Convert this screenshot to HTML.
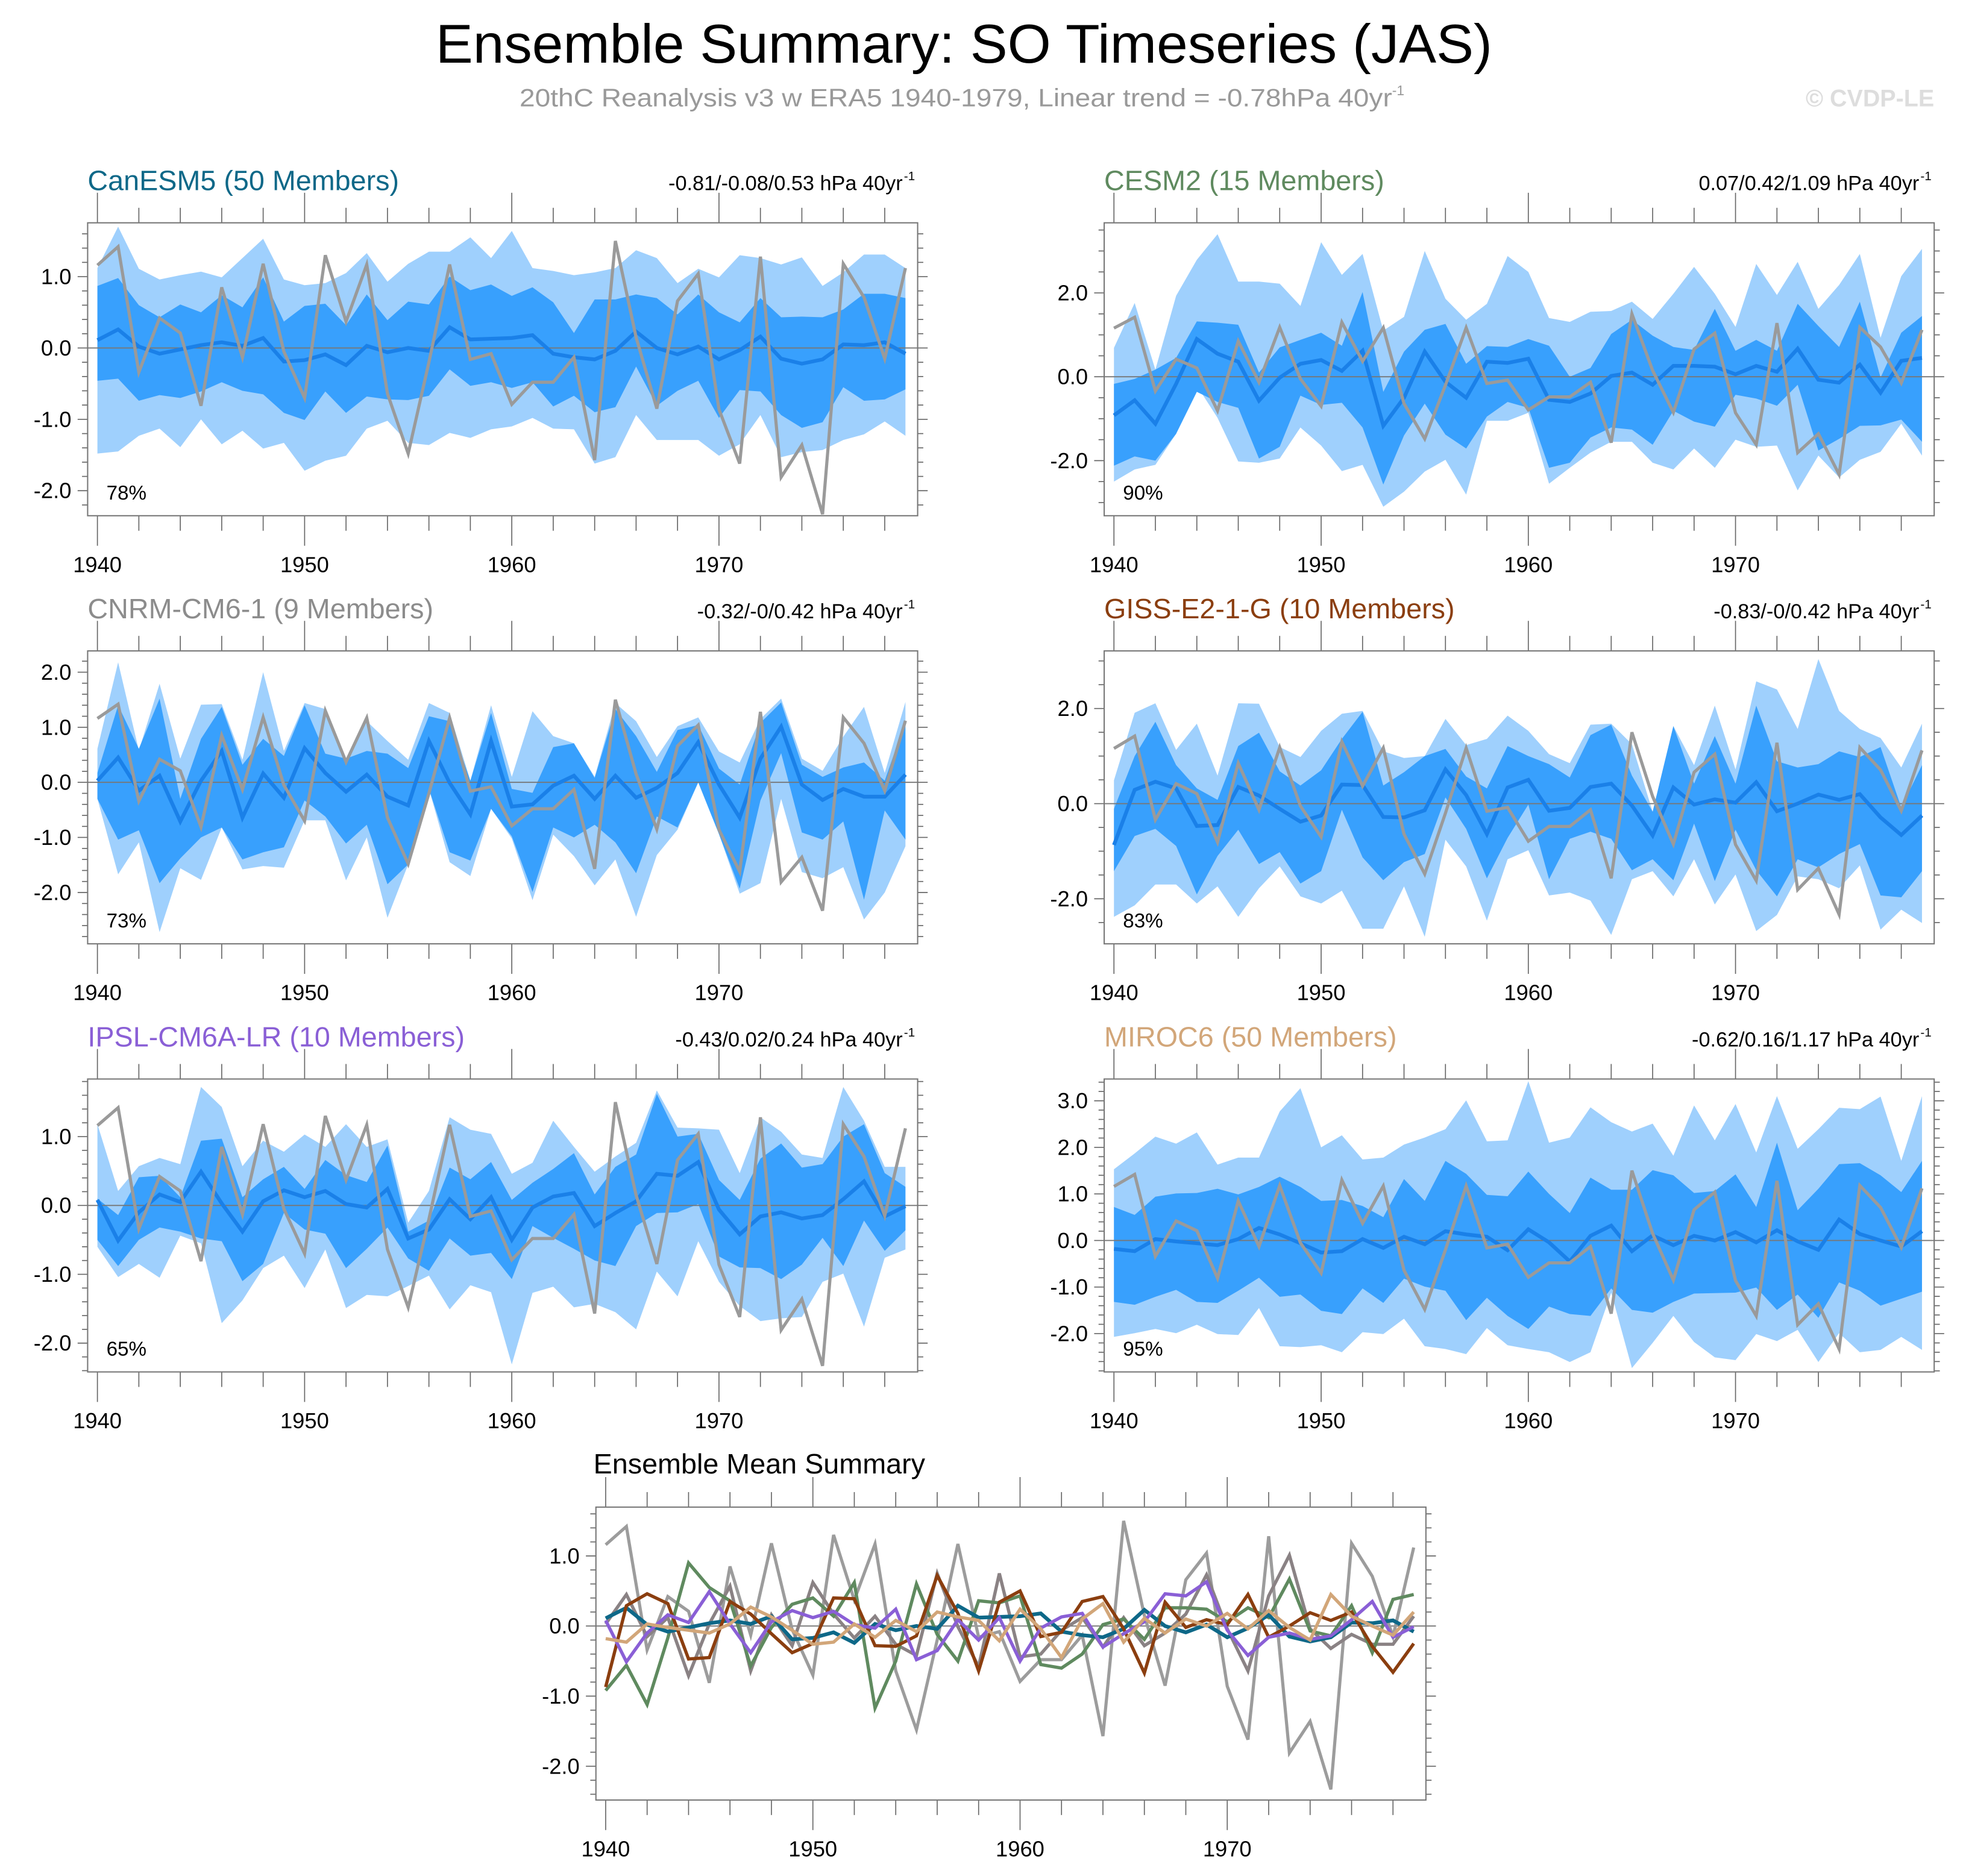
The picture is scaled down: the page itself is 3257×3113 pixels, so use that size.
<!DOCTYPE html>
<html><head><meta charset="utf-8"><title>Ensemble Summary: SO Timeseries (JAS)</title>
<style>html,body{margin:0;padding:0;background:#fff}svg{display:block}text{font-family:"Liberation Sans",Arial,sans-serif}</style>
</head><body>
<svg id="chart" xmlns="http://www.w3.org/2000/svg" width="3257" height="3113" viewBox="0 0 1568 1498.7">
<rect x="0" y="0" width="1568" height="1498.7" fill="#fff"/>
<text x="770" y="50" font-size="44" text-anchor="middle" textLength="844" lengthAdjust="spacingAndGlyphs">Ensemble Summary: SO Timeseries (JAS)</text>
<text x="415" y="85" font-size="20" fill="#999" textLength="697" lengthAdjust="spacingAndGlyphs">20thC Reanalysis v3 w ERA5 1940-1979, Linear trend = -0.78hPa 40yr</text>
<text x="1112" y="76" font-size="11" fill="#999">-1</text>
<text x="1545" y="85" font-size="19" font-weight="bold" fill="#ddd" text-anchor="end">© CVDP-LE</text>
<g id="plots"></g>
</svg>
<script>
const years = [1940,1941,1942,1943,1944,1945,1946,1947,1948,1949,1950,1951,1952,1953,1954,1955,1956,1957,1958,1959,1960,1961,1962,1963,1964,1965,1966,1967,1968,1969,1970,1971,1972,1973,1974,1975,1976,1977,1978,1979];
const obs = [1.16,1.42,-0.34,0.42,0.21,-0.81,0.85,-0.13,1.18,-0.05,-0.70,1.30,0.37,1.17,-0.64,-1.48,-0.20,1.17,-0.16,-0.08,-0.79,-0.48,-0.48,-0.13,-1.57,1.50,0.15,-0.85,0.66,1.04,-0.86,-1.62,1.28,-1.81,-1.36,-2.33,1.18,0.71,-0.15,1.12];

const canMean = [0.11,0.26,0.02,-0.08,-0.02,0.04,0.08,0.03,0.14,-0.19,-0.17,-0.09,-0.24,0.03,-0.06,0.0,-0.04,0.29,0.12,0.13,0.14,0.18,-0.08,-0.13,-0.16,-0.04,0.23,0.0,-0.09,0.02,-0.16,-0.03,0.16,-0.15,-0.22,-0.16,0.05,0.04,0.08,-0.08];
const canP90 = [0.87,0.98,0.6,0.43,0.61,0.5,0.74,0.57,0.99,0.37,0.59,0.62,0.32,0.75,0.39,0.65,0.61,1.0,0.81,0.89,0.73,0.85,0.64,0.21,0.68,0.68,0.75,0.70,0.47,0.75,0.5,0.36,0.70,0.43,0.44,0.43,0.54,0.76,0.76,0.70];
const canP10 = [-0.46,-0.43,-0.74,-0.66,-0.70,-0.61,-0.48,-0.60,-0.65,-0.91,-1.01,-0.61,-0.91,-0.68,-0.72,-0.73,-0.67,-0.30,-0.53,-0.48,-0.56,-0.48,-0.82,-0.67,-0.90,-0.83,-0.26,-0.81,-0.60,-0.46,-0.98,-0.59,-0.61,-0.94,-1.12,-1.04,-0.55,-0.74,-0.72,-0.58];
const canMax = [1.12,1.70,1.11,0.96,1.02,1.07,0.99,1.26,1.53,0.96,0.88,0.91,1.05,1.33,0.93,1.18,1.35,1.35,1.55,1.26,1.64,1.12,1.08,1.02,1.06,1.12,1.37,1.26,0.91,1.11,0.99,1.30,1.26,1.17,1.27,0.87,1.06,1.31,1.31,1.12];
const canMin = [-1.48,-1.45,-1.23,-1.13,-1.39,-1.0,-1.35,-1.16,-1.41,-1.33,-1.72,-1.58,-1.51,-1.13,-1.02,-1.33,-1.36,-1.19,-1.26,-1.14,-1.10,-0.98,-1.13,-1.14,-1.62,-1.53,-0.94,-1.29,-1.29,-1.29,-1.51,-1.35,-0.94,-1.53,-1.46,-1.43,-1.29,-1.21,-1.03,-1.23];

const cesmMean = [-0.92,-0.56,-1.12,-0.17,0.90,0.55,0.36,-0.57,-0.02,0.31,0.40,0.14,0.62,-1.17,-0.50,0.60,-0.12,-0.50,0.36,0.33,0.43,-0.55,-0.60,-0.40,0.02,0.10,-0.19,0.26,0.26,0.24,0.06,0.26,0.12,0.67,-0.07,-0.14,0.29,-0.38,0.38,0.45];
const cesmP90 = [-0.17,-0.05,0.17,0.45,1.32,1.29,1.24,0.10,0.70,0.88,1.05,0.74,2.02,-0.36,0.60,1.12,1.26,0.31,0.73,0.71,0.90,0.74,0.0,0.21,1.02,1.36,0.98,0.71,0.64,1.62,0.62,0.88,0.62,1.74,1.21,0.71,1.79,-0.02,1.05,1.45];
const cesmP10 = [-2.12,-1.90,-2.0,-1.36,-0.36,-0.60,-0.74,-1.95,-1.67,-0.45,-0.67,-0.62,-1.21,-2.57,-1.40,-0.64,-1.38,-1.71,-0.95,-0.60,-0.74,-2.17,-2.05,-1.45,-1.21,-1.26,-1.62,-0.81,-1.07,-1.19,-0.43,-0.52,-0.69,-0.19,-1.76,-1.48,-1.17,-1.16,-1.02,-1.55];
const cesmMax = [0.69,1.76,0.17,1.93,2.79,3.40,2.27,2.27,2.22,1.69,3.21,2.43,2.93,1.10,1.43,3.0,1.86,1.36,1.74,2.88,2.50,1.40,1.31,1.55,1.57,1.79,1.38,1.98,2.62,1.98,1.19,2.69,1.95,2.74,1.62,2.19,2.93,0.93,2.40,3.05];
const cesmMin = [-2.5,-2.21,-2.1,-1.36,-0.21,-0.98,-2.02,-2.05,-1.95,-1.21,-1.64,-2.25,-2.1,-3.10,-2.74,-2.26,-1.98,-2.81,-1.05,-1.05,-0.86,-2.55,-2.17,-1.81,-1.55,-1.55,-2.05,-2.21,-1.71,-2.17,-1.50,-1.67,-1.64,-2.71,-1.88,-2.40,-1.98,-1.79,-1.12,-1.88];

const cnrmMean = [0.03,0.45,-0.15,0.12,-0.71,0.03,0.57,-0.64,0.16,-0.28,0.62,0.17,-0.17,0.14,-0.26,-0.42,0.75,-0.01,-0.58,0.75,-0.44,-0.40,-0.06,0.12,-0.30,0.12,-0.28,-0.10,0.17,0.73,-0.04,-0.64,0.43,1.01,-0.04,-0.32,-0.12,-0.26,-0.26,0.14];
const cnrmP90 = [0.17,1.40,0.61,1.52,-0.30,0.79,1.37,0.32,0.79,0.48,1.40,0.52,0.43,0.57,0.52,0.26,1.20,1.11,0.03,1.26,-0.12,-0.19,0.64,0.71,0.08,1.33,0.84,0.19,0.95,1.04,0.25,-0.04,1.08,1.45,0.32,0.10,0.27,0.36,0.03,1.11];
const cnrmP10 = [-0.30,-1.04,-0.87,-1.83,-1.38,-1.0,-0.82,-1.40,-1.27,-1.18,-0.33,-0.62,-1.11,-0.77,-1.85,-1.49,-0.12,-1.27,-1.42,-0.48,-0.98,-1.99,-0.82,-1.0,-0.77,-1.09,-1.65,-0.62,-0.82,0.0,-0.94,-1.93,-0.33,0.53,-0.91,-1.04,-0.71,-2.13,-0.51,-1.04];
const cnrmMax = [0.61,2.18,0.58,1.79,0.43,1.41,1.42,0.41,2.0,0.57,1.44,1.33,0.43,1.11,0.75,0.41,1.44,1.26,0.03,1.40,0.10,1.29,0.84,0.71,0.10,1.44,1.11,0.46,1.02,1.18,0.56,0.36,1.15,1.52,0.43,0.21,0.83,1.37,0.17,1.46];
const cnrmMin = [-0.30,-1.67,-1.09,-2.72,-1.56,-1.77,-0.82,-1.58,-1.52,-1.55,-0.69,-0.69,-1.78,-1.0,-2.46,-1.49,-0.12,-1.45,-1.70,-0.48,-1.02,-2.14,-0.95,-1.34,-1.87,-1.40,-2.44,-1.32,-0.86,0.0,-0.94,-2.02,-1.83,-0.30,-1.63,-1.74,-1.54,-2.49,-2.0,-1.16];

const gissMean = [-0.87,0.29,0.46,0.32,-0.47,-0.45,0.35,0.17,-0.11,-0.38,-0.25,0.40,0.39,-0.28,-0.29,-0.14,0.72,0.18,-0.64,0.34,0.50,-0.15,-0.09,0.35,0.42,-0.04,-0.67,0.34,-0.02,0.09,0.02,0.45,-0.16,0.0,0.19,0.08,0.20,-0.29,-0.66,-0.25];
const gissP90 = [-0.11,1.0,1.72,0.81,0.32,0.08,1.21,1.49,0.68,0.38,0.70,1.36,1.93,0.38,0.66,1.0,1.15,0.57,0.32,1.21,1.0,0.83,0.55,1.44,1.66,0.59,-0.17,1.63,0.42,1.42,0.42,2.06,0.89,0.76,0.83,1.10,0.98,1.19,-0.08,0.81];
const gissP10 = [-1.42,-0.68,-0.53,-0.89,-1.91,-1.10,-0.55,-1.27,-1.02,-1.68,-1.42,-0.13,-1.13,-1.61,-1.23,-1.06,0.13,-0.53,-1.57,-0.72,-0.02,-1.59,-0.74,-0.59,-0.74,-1.40,-1.17,-1.61,-0.42,-1.63,-0.55,-1.40,-1.95,-1.17,-1.34,-1.06,-0.85,-1.93,-1.97,-1.42];
const gissMax = [0.49,1.91,2.11,1.13,1.68,0.59,2.11,2.10,1.19,0.98,1.53,1.89,1.95,1.10,0.96,1.0,1.78,1.23,1.36,1.85,1.53,1.04,0.85,1.66,1.68,1.25,-0.17,1.63,0.81,2.06,0.72,2.57,2.40,1.57,3.04,1.95,1.57,1.38,0.76,1.68];
const gissMin = [-2.38,-2.14,-1.70,-1.70,-2.10,-1.74,-2.38,-1.78,-1.32,-1.95,-2.10,-1.83,-2.63,-2.63,-1.74,-2.80,-0.76,-1.32,-2.46,-1.17,-0.98,-1.93,-1.87,-2.04,-2.76,-1.59,-1.42,-1.95,-1.17,-2.12,-1.49,-2.68,-2.34,-1.53,-1.59,-1.78,-1.30,-2.65,-2.23,-2.51];

const ipslMean = [0.08,-0.51,-0.10,0.16,0.05,0.49,0.03,-0.38,0.06,0.22,0.12,0.21,0.02,-0.03,0.24,-0.48,-0.35,0.09,-0.20,0.12,-0.50,-0.03,0.13,0.18,-0.30,-0.11,0.06,0.46,0.43,0.63,-0.06,-0.42,-0.16,-0.10,-0.19,-0.14,0.09,0.35,-0.16,-0.01];
const ipslP90 = [0.10,-0.14,0.41,0.43,0.12,0.94,0.97,0.12,0.38,0.56,0.24,0.66,0.44,0.34,0.87,-0.38,-0.22,0.55,0.38,0.63,0.08,0.33,0.53,0.76,0.16,0.56,0.74,1.62,1.0,1.04,0.37,0.08,0.68,0.90,0.55,0.60,1.0,1.18,0.47,0.27];
const ipslP10 = [-0.50,-0.88,-0.50,-0.32,-0.38,-0.48,-0.52,-1.10,-0.85,-0.11,-0.35,-0.41,-0.91,-0.63,-0.32,-0.77,-0.95,-0.48,-0.73,-0.69,-1.07,-0.30,-0.47,-0.63,-0.80,-0.88,-0.30,-0.11,-0.10,0.02,-0.74,-0.90,-0.91,-1.07,-0.86,-0.47,-0.88,-0.22,-0.66,-0.36];
const ipslMax = [1.18,0.21,0.57,0.69,0.60,1.72,1.43,0.57,0.94,0.78,1.03,0.85,1.18,0.85,0.96,-0.25,0.21,1.28,1.10,1.04,0.46,0.62,1.23,0.85,0.49,0.71,0.91,1.67,1.13,1.12,1.10,0.47,1.28,1.07,0.74,0.69,1.72,1.23,0.56,0.56];
const ipslMin = [-0.60,-1.04,-0.85,-1.05,-0.44,-0.55,-1.71,-1.38,-0.91,-0.73,-1.20,-0.64,-1.49,-1.30,-1.32,-1.17,-1.02,-1.51,-1.16,-1.26,-2.31,-1.27,-1.18,-1.48,-1.43,-1.55,-1.80,-0.96,-1.32,-0.52,-1.11,-1.46,-1.68,-1.64,-1.62,-1.11,-0.99,-1.76,-0.76,-0.64];

const mirocMean = [-0.18,-0.23,0.03,-0.02,-0.06,-0.10,0.03,0.27,0.13,-0.06,-0.26,-0.23,0.03,-0.16,0.08,-0.08,0.20,0.13,0.08,-0.21,0.24,-0.04,-0.45,0.10,0.32,-0.23,0.11,-0.10,0.10,0.0,0.18,-0.04,0.22,-0.02,-0.20,0.45,0.14,0.0,-0.13,0.20];
const mirocP90 = [0.72,0.55,0.94,1.01,1.02,1.11,0.99,1.15,1.37,1.15,0.85,0.87,0.74,0.50,1.32,0.85,1.71,1.43,0.98,0.95,1.48,1.0,0.59,1.35,1.09,1.09,1.51,1.40,1.02,1.06,1.42,0.72,2.10,0.65,1.11,1.64,1.66,1.40,1.04,1.71];
const mirocP10 = [-1.32,-1.38,-1.21,-1.06,-1.32,-1.34,-1.08,-0.80,-1.21,-1.16,-1.51,-1.58,-1.03,-1.34,-0.82,-0.99,-1.08,-1.71,-1.23,-1.62,-1.90,-1.42,-1.58,-1.62,-1.03,-1.49,-1.55,-1.32,-1.14,-1.13,-1.12,-1.01,-1.49,-1.16,-1.66,-0.90,-1.08,-1.40,-1.25,-1.10];
const mirocMax = [1.53,1.87,2.23,2.08,2.32,1.63,1.78,1.78,2.77,3.27,2.0,2.26,1.74,1.78,2.06,2.21,2.39,3.01,2.13,2.15,3.42,2.10,2.21,2.86,2.54,2.34,2.51,1.82,2.90,2.15,2.93,1.89,3.10,1.97,2.39,2.85,2.82,3.09,1.71,3.10];
const mirocMin = [-2.07,-1.99,-1.90,-1.99,-1.81,-2.01,-2.03,-1.45,-2.27,-2.29,-2.25,-2.40,-1.97,-2.01,-1.68,-2.27,-2.33,-2.44,-1.88,-2.25,-2.33,-2.40,-2.61,-2.40,-1.12,-2.74,-2.20,-1.62,-2.18,-2.51,-2.57,-2.01,-2.16,-1.92,-2.61,-1.99,-2.40,-2.35,-2.07,-2.35];

const modelNames = ["CanESM5 (50 Members)","CESM2 (15 Members)","CNRM-CM6-1 (9 Members)","GISS-E2-1-G (10 Members)","IPSL-CM6A-LR (10 Members)","MIROC6 (50 Members)"];
const statLabels = ["-0.81/-0.08/0.53 hPa 40yr","0.07/0.42/1.09 hPa 40yr","-0.32/-0/0.42 hPa 40yr","-0.83/-0/0.42 hPa 40yr","-0.43/0.02/0.24 hPa 40yr","-0.62/0.16/1.17 hPa 40yr"];
const pctLabels = ["78%","90%","73%","83%","65%","95%"];
const xTickLabels = [1940,1950,1960,1970];

const NS = "http://www.w3.org/2000/svg";
const root = document.getElementById("plots");
function mk(tag, attrs, parent) {
  const e = document.createElementNS(NS, tag);
  for (const k in attrs) e.setAttribute(k, attrs[k]);
  (parent || root).appendChild(e);
  return e;
}

const models = [
  {mean: canMean, p90: canP90, p10: canP10, max: canMax, min: canMin, color: "#0e6888", slug: "canesm5"},
  {mean: cesmMean, p90: cesmP90, p10: cesmP10, max: cesmMax, min: cesmMin, color: "#5f8a5f", slug: "cesm2"},
  {mean: cnrmMean, p90: cnrmP90, p10: cnrmP10, max: cnrmMax, min: cnrmMin, color: "#8c8c8c", slug: "cnrm-cm6-1", lineColor: "#8a8284"},
  {mean: gissMean, p90: gissP90, p10: gissP10, max: gissMax, min: gissMin, color: "#8b3e0f", slug: "giss-e2-1-g"},
  {mean: ipslMean, p90: ipslP90, p10: ipslP10, max: ipslMax, min: ipslMin, color: "#8a5fd6", slug: "ipsl-cm6a-lr"},
  {mean: mirocMean, p90: mirocP90, p10: mirocP10, max: mirocMax, min: mirocMin, color: "#d2a679", slug: "miroc6"}
];

// layout (not data)
const layouts = [
  {L:70, T:178, zeroY:278, unit:57, majors:[1,0,-1,-2], minor:0.2},
  {L:882, T:178, zeroY:301, unit:33.5, majors:[2,0,-2], minor:0.5},
  {L:70, T:520, zeroY:625, unit:44, majors:[2,1,0,-1,-2], minor:0.2},
  {L:882, T:520, zeroY:642, unit:38, majors:[2,0,-2], minor:0.5},
  {L:70, T:862, zeroY:963, unit:55, majors:[1,0,-1,-2], minor:0.2},
  {L:882, T:862, zeroY:991, unit:37.2, majors:[3,2,1,0,-1,-2], minor:0.2}
];
const W = 663, H = 234, YR = 16.55, X0 = 7.8;

function drawAxes(g, lay, slug) {
  const L = lay.L, T = lay.T, B = T + H, R = L + W;
  const xs = yr => L + X0 + (yr - 1940) * YR;
  const ys = v => lay.zeroY - v * lay.unit;
  const vmax = (lay.zeroY - T) / lay.unit, vmin = (lay.zeroY - B) / lay.unit;
  const ax = mk("g", {}, g);
  
  
  const step = lay.minor;
  for (let k = Math.ceil(vmin / step - 1e-6); k * step <= vmax + 1e-6; k++) {
    const v = +(k * step).toFixed(3);
    const isMajor = lay.majors.some(m => Math.abs(m - v) < 1e-6);
    const y = ys(v);
    const len = isMajor ? 8 : 4.5;
    mk("line", {x1: L - len, x2: L, y1: y, y2: y, stroke: "#666", "stroke-width": 0.8}, ax);
    mk("line", {x1: R, x2: R + len, y1: y, y2: y, stroke: "#666", "stroke-width": 0.8}, ax);
  }
  lay.majors.forEach(v => {
    const t = mk("text", {x: L - 13, y: ys(v) + 6, "font-size": 17.5, "text-anchor": "end"}, ax);
    t.textContent = v.toFixed(1);
    
    
  });
  for (let yr = 1940; yr <= 1980; yr += 2) {
    const x = xs(yr);
    if (x > R) break;
    const major = yr % 10 === 0;
    const len = major ? 24 : 12;
    mk("line", {x1: x, x2: x, y1: B, y2: B + len, stroke: "#666", "stroke-width": 0.8}, ax);
    mk("line", {x1: x, x2: x, y1: T - len, y2: T, stroke: "#666", "stroke-width": 0.8}, ax);
  }
  xTickLabels.forEach(yr => {
    const t = mk("text", {x: xs(yr), y: B + 45, "font-size": 17.5, "text-anchor": "middle"}, ax);
    t.textContent = yr;
    
    
  });
  return {xs, ys, L, T, B, R};
}

function band(g, hi, lo, fill, xs, ys, name) {
  let d = "";
  hi.forEach((v, i) => { d += (i ? "L" : "M") + xs(years[i]).toFixed(2) + "," + ys(v).toFixed(2); });
  for (let i = lo.length - 1; i >= 0; i--) d += "L" + xs(years[i]).toFixed(2) + "," + ys(lo[i]).toFixed(2);
  const p = mk("path", {d: d + "Z", fill: fill, stroke: "none"}, g);
  
  
  return p;
}
function line(g, vals, color, w, xs, ys, name) {
  const pts = vals.map((v, i) => xs(years[i]).toFixed(2) + "," + ys(v).toFixed(2)).join(" ");
  const p = mk("polyline", {points: pts, fill: "none", stroke: color, "stroke-width": w, "stroke-linejoin": "miter"}, g);
  
  
  return p;
}

models.forEach((m, idx) => {
  const lay = layouts[idx];
  const g = mk("g", {});
  
  
  const clipId = "clip" + idx;
  const cp = mk("clipPath", {id: clipId}, g);
  mk("rect", {x: lay.L, y: lay.T, width: W, height: H}, cp);
  const a = drawAxes(g, lay, m.slug);
  const plot = mk("g", {"clip-path": "url(#" + clipId + ")"}, g);
  band(plot, m.max, m.min, "#9fd0fd", a.xs, a.ys, m.slug + '-min-max-band');
  band(plot, m.p90, m.p10, "#38a0fd", a.xs, a.ys, m.slug + '-p10-p90-band');
  mk("line", {x1: a.L, x2: a.R, y1: a.ys(0), y2: a.ys(0), stroke: "#777", "stroke-width": 0.9}, plot);
  line(plot, m.mean, "#1a80e8", 3, a.xs, a.ys, m.slug + '-ensemble-mean-line');
  line(plot, obs, "#9a9a9a", 2.5, a.xs, a.ys, m.slug + '-observed-line');
  mk("rect", {x: a.L, y: a.T, width: W, height: H, fill: "none", stroke: "#777", "stroke-width": 1}, g);
  const title = mk("text", {x: a.L, y: lay.T - 26, "font-size": 22.5, fill: m.color}, g);
  title.textContent = modelNames[idx];
  
  
  const st = mk("text", {x: a.R - 12, y: lay.T - 26, "font-size": 16.5, "text-anchor": "end"}, g);
  st.textContent = statLabels[idx];
  
  
  const sup = mk("text", {x: a.R - 11, y: lay.T - 34, "font-size": 10}, g);
  sup.textContent = "-1";
  
  
  const pc = mk("text", {x: a.L + 15, y: a.B - 13, "font-size": 16}, g);
  pc.textContent = pctLabels[idx];
  
  
});

// Ensemble mean summary panel
(function () {
  const lay = {L: 476, T: 1204, zeroY: 1299, unit: 56, majors: [1, 0, -1, -2], minor: 0.2};
  const g = mk("g", {});
  
  
  const cp = mk("clipPath", {id: "clipS"}, g);
  mk("rect", {x: lay.L, y: lay.T, width: W, height: H}, cp);
  const a = drawAxes(g, lay, 'summary');
  const plot = mk("g", {"clip-path": "url(#clipS)"}, g);
  mk("line", {x1: a.L, x2: a.R, y1: a.ys(0), y2: a.ys(0), stroke: "#777", "stroke-width": 0.9}, plot);
  line(plot, obs, "#9c9c9c", 2.5, a.xs, a.ys, 'summary-observed-line');
  [2, 1, 0, 3, 4, 5].forEach(i => {
    const m = models[i];
    line(plot, m.mean, m.lineColor || m.color, i === 0 ? 3 : 2.6, a.xs, a.ys, 'summary-' + m.slug + '-mean-line');
  });
  mk("rect", {x: a.L, y: a.T, width: W, height: H, fill: "none", stroke: "#777", "stroke-width": 1}, g);
  const t = mk("text", {x: 474, y: 1177, "font-size": 22.5}, g);
  t.textContent = "Ensemble Mean Summary";
  
  
})();
</script>
</body></html>
